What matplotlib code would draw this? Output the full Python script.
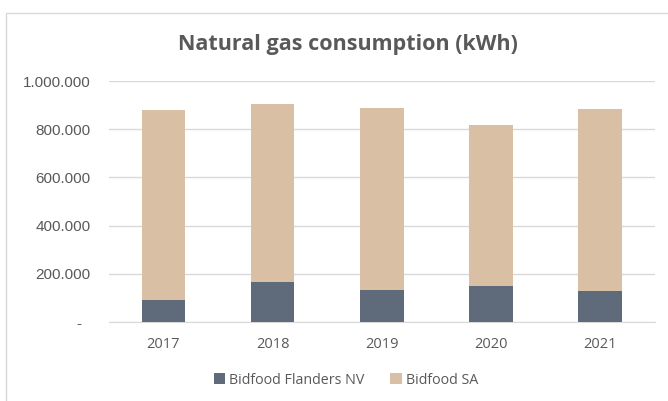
# Natural gas consumption (kWh) - stacked bars
import numpy as np
import matplotlib.pyplot as plt
from matplotlib.patches import Rectangle

# data
years = ['2017', '2018', '2019', '2020', '2021']
flanders_nv = [90000, 165000, 131000, 150000, 130000]
bidfood_sa = [788000, 741000, 757000, 666000, 752000]
y_ticks = [0, 200000, 400000, 600000, 800000, 1000000]

col_nv = '#5F6B7B'
col_sa = '#D9C0A5'
txt = '#595959'

plt.rcParams['font.family'] = ['Open Sans', 'DejaVu Sans']

figure = plt.figure(figsize=(6.68, 4.01), dpi=100)
axis = figure.add_axes([0.163, 0.197, 0.817, 0.601])

x = np.arange(len(years))
axis.bar(x, flanders_nv, width=0.4, color=col_nv, label='Bidfood Flanders NV', zorder=3)
axis.bar(x, bidfood_sa, width=0.4, bottom=flanders_nv, color=col_sa, label='Bidfood SA', zorder=3)

axis.set_xlim(-0.5, len(years) - 0.5)
axis.set_ylim(0, 1000000)
axis.set_xticks(x)
axis.set_xticklabels(years, fontsize=10.5)
axis.set_yticks(y_ticks)
axis.set_yticklabels(['-  ' if v == 0 else f'{v:,}'.replace(',', '.') for v in y_ticks],
	fontsize=11, family=['Liberation Sans', 'DejaVu Sans'])
axis.tick_params(length=0, colors=txt)
axis.tick_params(axis='y', pad=13)
axis.tick_params(axis='x', pad=11)

# grid
axis.grid(axis='y', color='#D9D9D9', linewidth=1, zorder=0)
for s in ['top', 'right', 'left']:
	axis.spines[s].set_visible(False)
axis.spines['bottom'].set_color('#D9D9D9')

figure.text(0.521, 0.888, 'Natural gas consumption (kWh)', ha='center', va='center',
	fontsize=15.5, fontweight='bold', color=txt)

figure.legend(loc='center', bbox_to_anchor=(0.518, 0.052), ncol=2, frameon=False,
	fontsize=10.3, handlelength=0.8, handleheight=0.8, columnspacing=1.8, handletextpad=0.3,
	labelcolor=txt)

# chart border
figure.patches.append(Rectangle((0.009, -0.05), 1.1, 1.018, transform=figure.transFigure,
	fill=False, edgecolor='#D9D9D9', linewidth=1))

figure.savefig('out.png', dpi=100)
